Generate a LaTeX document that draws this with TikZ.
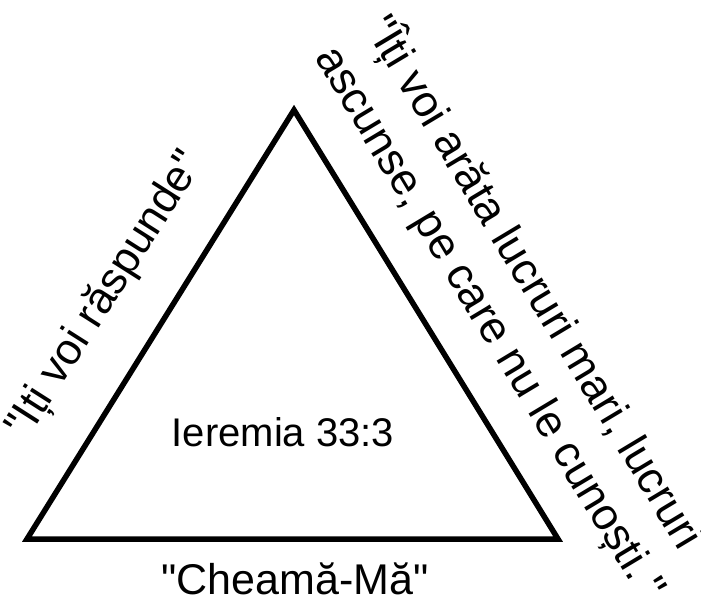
\documentclass[tikz,border=0pt]{standalone}
\usepackage{fontspec}
\newfontfamily\lsans{Liberation Sans}
\newcommand{\qq}{\symbol{34}}
\begin{document}
\begin{tikzpicture}[x=1pt,y=-1pt,
  lbl/.style={inner sep=0pt},
  edge/.style={line width=5.5pt,line join=miter}]
\useasboundingbox (0,0) rectangle (701,601);
\coordinate (top) at (294,110);
\coordinate (bl) at (27,539);
\coordinate (br) at (558,539);
\draw[edge] (top) -- (bl) -- (br) -- cycle;
\node[lbl,font=\lsans\fontsize{40}{48}\selectfont] (center) at (283,432) {Ieremia 33:3};
\node[lbl,font=\lsans\fontsize{43}{50}\selectfont] (bottom) at (295,579) {\qq Cheamă-Mă\qq};
\node[lbl,rotate=57.5,font=\lsans\fontsize{44}{52}\selectfont] (left) at (106,295) {\qq Iți voi răspunde\qq};
\node[lbl,rotate=-59,align=left,font=\lsans\fontsize{44.5}{58}\selectfont] (right) at (516,308)
  {\qq Îți voi arăta lucruri mari, lucruri\\ascunse, pe care nu le cunoști.\,\qq};
\end{tikzpicture}
\end{document}
